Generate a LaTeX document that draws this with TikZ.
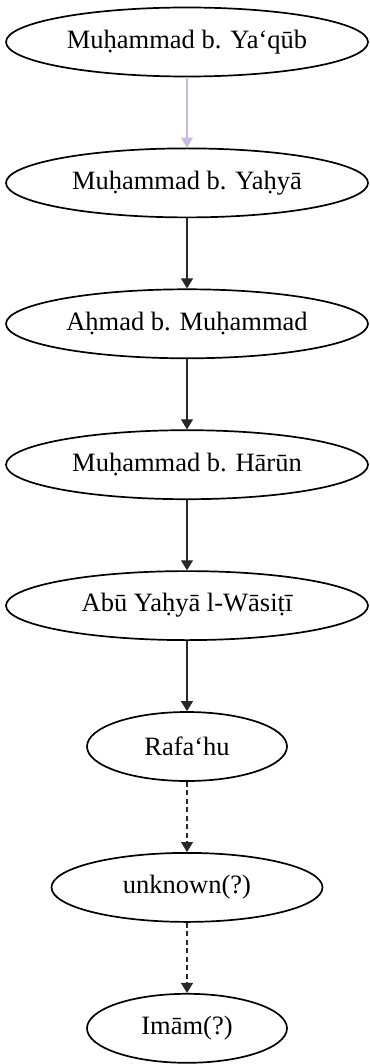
\documentclass[tikz,border=0pt]{standalone}
\usepackage{fontspec}
\setmainfont{Liberation Serif}
\usepackage{tikz}
\usetikzlibrary{shapes.geometric, arrows.meta, positioning}
\definecolor{lavender}{RGB}{200,186,226}
\definecolor{darkline}{RGB}{40,40,40}
\tikzset{
  isn/.style={ellipse, draw=black, line width=1.7pt,
    minimum width=362pt, minimum height=69pt, inner sep=0pt,
    font=\fontsize{26.5}{30}\selectfont},
  isnS/.style={isn, minimum width=200pt},
  isnM/.style={isn, minimum width=271pt},
  arr/.style={-{Triangle[width=12pt,length=10pt]}, line width=1.1pt, draw=darkline},
  arrL/.style={arr, draw=lavender},
  arrD/.style={arr, dash pattern=on 5pt off 3.5pt},
}

\begin{document}
\begin{tikzpicture}[node distance=70.2pt]
  \useasboundingbox (0,0) rectangle (369pt,-1064pt);

  % -- chain of transmitters --
  \node[isn] (yaqub) at (187pt,-42pt) {Muḥammad b. Ya‘qūb};
  \node[isn, below=of yaqub] (yahya) {Muḥammad b. Yaḥyā};
  \node[isn, below=of yahya] (ahmad) {Aḥmad b. Muḥammad};
  \node[isn, below=of ahmad] (harun) {Muḥammad b. Hārūn};
  \node[isn, below=of harun] (wasiti) {Abū Yaḥyā l-Wāsiṭī};
  \node[isnS, below=of wasiti] (rafa) {Rafa‘hu};
  \node[isnM, below=of rafa] (unknown) {unknown(?)};
  \node[isnS, below=of unknown] (imam) {Imām(?)};

  % links
  \draw[arrL] (yaqub) -- (yahya);
  \draw[arr] (yahya) -- (ahmad);
  \draw[arr] (ahmad) -- (harun);
  \draw[arr] (harun) -- (wasiti);
  \draw[arr] (wasiti) -- (rafa);
  \draw[arrD] (rafa) -- (unknown);
  \draw[arrD] (unknown) -- (imam);
\end{tikzpicture}
\end{document}
